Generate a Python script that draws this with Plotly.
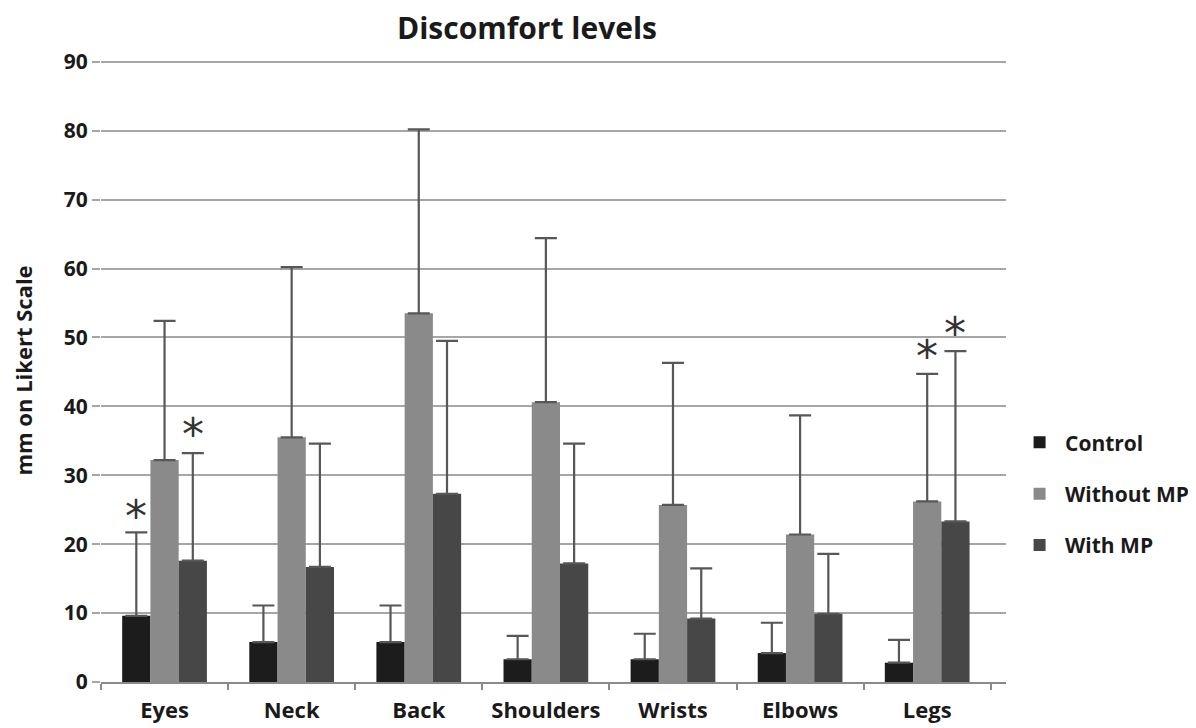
import plotly.graph_objects as go

categories = ["Eyes", "Neck", "Back", "Shoulders", "Wrists", "Elbows", "Legs"]
series_names = ["Control", "Without MP", "With MP"]
control = [9.6, 5.8, 5.8, 3.3, 3.3, 4.2, 2.8]
control_err_top = [21.7, 11.1, 11.1, 6.7, 7.0, 8.6, 6.1]
without_mp = [32.2, 35.5, 53.5, 40.6, 25.7, 21.4, 26.2]
without_mp_err_top = [52.4, 60.2, 80.2, 64.4, 46.3, 38.7, 44.7]
with_mp = [17.6, 16.7, 27.3, 17.2, 9.2, 9.9, 23.3]
with_mp_err_top = [33.2, 34.6, 49.5, 34.6, 16.5, 18.6, 48.0]
colors = ["#1c1c1c", "#8a8a8a", "#474747"]

# significance markers: (category index, series index, y)
star_cat = [0, 0, 6, 6]
star_series = [0, 2, 1, 2]
star_y = [25.0, 37.0, 48.2, 51.6]

x = list(range(len(categories)))
values = [control, without_mp, with_mp]
tops = [control_err_top, without_mp_err_top, with_mp_err_top]

FONT = "Open Sans"
TXT = "#1a1a1a"

fig = go.Figure()
for name, vals, top, col in zip(series_names, values, tops, colors):
    fig.add_trace(go.Bar(
        x=x, y=vals, name="<b>\u00a0%s</b>" % name, legendgroup=name,
        marker=dict(color=col, line=dict(width=0)),
        error_y=dict(type="data", symmetric=False,
                     array=[t - v for t, v in zip(top, vals)],
                     arrayminus=[0] * len(vals),
                     color="#575757", thickness=2.2, width=11),
    ))

bar_w = (2 / 3) / 3
for ci, si, yy in zip(star_cat, star_series, star_y):
    fig.add_annotation(x=ci + (si - 1) * bar_w, y=yy, text="*", showarrow=False,
                       font=dict(size=44, color="#333333", family="DejaVu Sans"),
                       yanchor="middle", xanchor="center", yshift=-7)

fig.update_layout(
    width=1196, height=728,
    paper_bgcolor="white", plot_bgcolor="white",
    margin=dict(l=93, r=198, t=51, b=53.5, autoexpand=False),
    barmode="group", bargap=1 / 3, bargroupgap=0,
    font=dict(family=FONT, color=TXT),
    title=dict(text="<b>Discomfort levels</b>", x=519 / 1196, xanchor="center",
               y=1 - 20.5 / 728, yanchor="middle",
               font=dict(size=30, family=FONT, color=TXT)),
    showlegend=True,
    legend=dict(x=1.015, y=0.417, xanchor="left", yanchor="top",
                font=dict(size=21, family=FONT, color=TXT),
                itemwidth=30, tracegroupgap=21, bgcolor="rgba(0,0,0,0)",
                traceorder="grouped"),
    xaxis=dict(range=[-0.5, 6.62], tickvals=x, automargin=False,
               ticktext=["<b>%s</b>" % c for c in categories],
               ticks="outside", ticklen=8, tickcolor="rgba(0,0,0,0)",
               showgrid=False, zeroline=False,
               showline=True, linecolor="#8a8a8a", linewidth=2,
               tickfont=dict(size=22, family=FONT, color=TXT),
               minor=dict(tickvals=[i + 0.5 for i in range(-1, 7)], ticks="outside",
                          ticklen=6, tickcolor="#8a8a8a", tickwidth=1.5, showgrid=False)),
    yaxis=dict(range=[0, 90.4], tickvals=list(range(0, 91, 10)), automargin=False,
               ticktext=["<b>%d</b>" % v for v in range(0, 91, 10)],
               showgrid=True, gridcolor="#a6a6a6", gridwidth=2,
               zeroline=False, showline=False,
               ticks="outside", ticklen=8, tickcolor="#a6a6a6", tickwidth=2,
               tickfont=dict(size=21, family=FONT, color=TXT),
               title=dict(text="<b>mm on Likert Scale</b>", standoff=26,
                          font=dict(size=22, family=FONT, color=TXT))),
)

fig.write_html("out.html")
